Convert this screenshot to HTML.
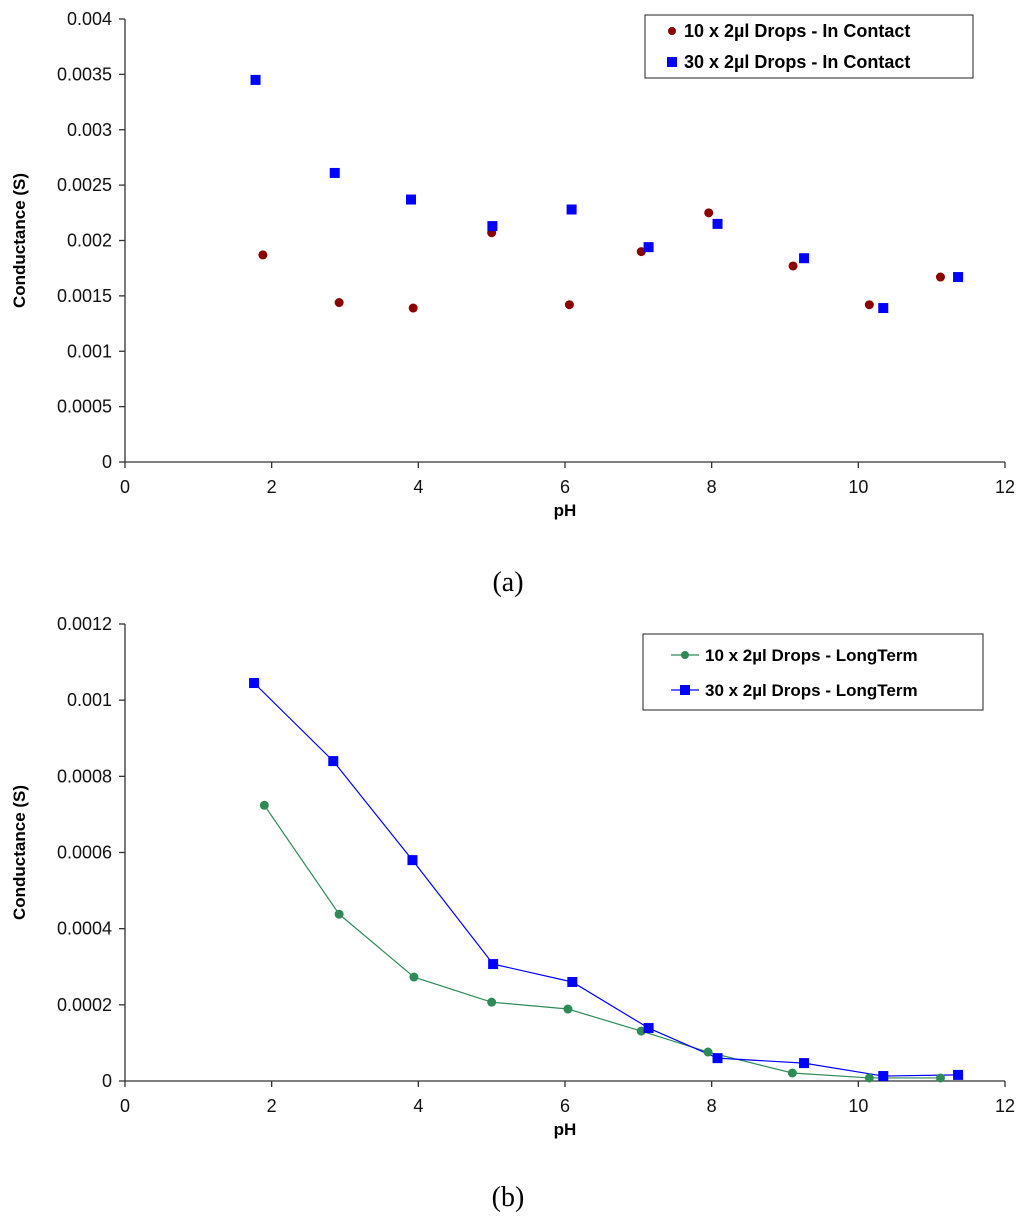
<!DOCTYPE html>
<html><head><meta charset="utf-8"><style>
body{margin:0;background:#fff;width:1024px;height:1225px;overflow:hidden}
svg{display:block}
text{font-family:"Liberation Sans",Arial,sans-serif}
</style></head><body>
<svg id="svg" width="1024" height="1225" xmlns="http://www.w3.org/2000/svg"></svg>
<script>
// Chart (a) data
const phA1 = [1.88, 2.92, 3.93, 5.0, 6.06, 7.04, 7.96, 9.11, 10.15, 11.12];
const condA1 = [0.00187, 0.00144, 0.00139, 0.00207, 0.00142, 0.0019, 0.00225, 0.00177, 0.00142, 0.00167];
const phA2 = [1.78, 2.86, 3.9, 5.01, 6.09, 7.14, 8.08, 9.26, 10.34, 11.36];
const condA2 = [0.00345, 0.00261, 0.00237, 0.00213, 0.00228, 0.00194, 0.00215, 0.00184, 0.00139, 0.00167];
const yTicksA = ["0","0.0005","0.001","0.0015","0.002","0.0025","0.003","0.0035","0.004"];
// Chart (b) data
const phB1 = [1.9, 2.92, 3.94, 5.0, 6.04, 7.04, 7.95, 9.1, 10.15, 11.12];
const condB1 = [0.000724, 0.000438, 0.000273, 0.000207, 0.000189, 0.000131, 0.000076, 0.000021, 0.000008, 0.000008];
const phB2 = [1.76, 2.84, 3.92, 5.02, 6.1, 7.14, 8.08, 9.26, 10.34, 11.36];
const condB2 = [0.001045, 0.00084, 0.00058, 0.000307, 0.00026, 0.000139, 0.00006, 0.000047, 0.000013, 0.000016];
const yTicksB = ["0","0.0002","0.0004","0.0006","0.0008","0.001","0.0012"];
const xTicks = ["0","2","4","6","8","10","12"];

const svg = document.getElementById('svg');
const NS = "http://www.w3.org/2000/svg";
function mk(tag, attrs, parent, txt){
  const e = document.createElementNS(NS, tag);
  for (const k in attrs) e.setAttribute(k, attrs[k]);
  if (txt !== undefined) e.textContent = txt;
  (parent||svg).appendChild(e);
  return e;
}
const X0 = 125, X1 = 1005;
const xs = v => X0 + (v/12)*(X1-X0);

function chart(id, yTop, yBot, yMax, yTicks, s1x, s1y, s2x, s2y, lines, s1color, s1shape, labels, legend){
  const g = mk('g', {});
  
  
  const ys = v => yBot - (v/yMax)*(yBot-yTop);
  const ax = mk('g', {}, g);
  
  
  mk('line', {x1:X0,y1:yTop,x2:X0,y2:yBot,stroke:'#333','stroke-width':1.3}, ax);
  mk('line', {x1:X0,y1:yBot,x2:X1,y2:yBot,stroke:'#333','stroke-width':1.3}, ax);
  yTicks.forEach((t,i)=>{
    const y = ys(parseFloat(t));
    mk('line', {x1:X0-6,y1:y,x2:X0,y2:y,stroke:'#333','stroke-width':1.3}, ax);
    const tx = mk('text', {x:X0-13,y:y+6,'font-size':18,'text-anchor':'end',fill:'#111'}, ax, t);
    
    
  });
  xTicks.forEach(t=>{
    const x = xs(parseFloat(t));
    mk('line', {x1:x,y1:yBot,x2:x,y2:yBot+6,stroke:'#333','stroke-width':1.3}, ax);
    const tx = mk('text', {x:x,y:yBot+31,'font-size':18,'text-anchor':'middle',fill:'#111'}, ax, t);
    
    
  });
  const xt = mk('text', {x:565,y:yBot+54,'font-size':17,'font-weight':'bold','text-anchor':'middle'}, g, 'pH');
  
  
  const cy = (yTop+yBot)/2;
  const yt = mk('text', {x:25,y:cy,'font-size':17,'font-weight':'bold','text-anchor':'middle',transform:`rotate(-90 25 ${cy})`}, g, 'Conductance (S)');
  
  
  if (lines){
    mk('polyline', {points:s1x.map((v,i)=>xs(v)+','+ys(s1y[i])).join(' '),fill:'none',stroke:s1color,'stroke-width':1.2}, g);
    mk('polyline', {points:s2x.map((v,i)=>xs(v)+','+ys(s2y[i])).join(' '),fill:'none',stroke:'#0000ff','stroke-width':1.2}, g);
  }
  s1x.forEach((v,i)=>{
    const c = mk('circle', {cx:xs(v),cy:ys(s1y[i]),r:4.5,fill:s1color}, g);
    
    
  });
  s2x.forEach((v,i)=>{
    const r = mk('rect', {x:xs(v)-5,y:ys(s2y[i])-5,width:10,height:10,fill:'#0000ff'}, g);
    
    
  });
  const lg = mk('g', {}, g);
  
  
  mk('rect', {x:legend[0],y:legend[1],width:legend[2],height:legend[3],fill:'#fff',stroke:'#222','stroke-width':1}, lg);
  const lx = legend[0], ly = legend[1];
  if (lines){
    mk('line', {x1:lx+28,y1:ly+21,x2:lx+56,y2:ly+21,stroke:s1color,'stroke-width':1.2}, lg);
    mk('line', {x1:lx+28,y1:ly+56,x2:lx+56,y2:ly+56,stroke:'#0000ff','stroke-width':1.2}, lg);
    mk('circle', {cx:lx+42,cy:ly+21,r:4,fill:s1color}, lg);
    mk('rect', {x:lx+37,y:ly+51,width:10,height:10,fill:'#0000ff'}, lg);
    mk('text', {x:lx+62,y:ly+27,'font-size':17,'font-weight':'bold'}, lg, labels[0]);
    mk('text', {x:lx+62,y:ly+62,'font-size':17,'font-weight':'bold'}, lg, labels[1]);
  } else {
    mk('circle', {cx:lx+27,cy:ly+16,r:4,fill:s1color}, lg);
    mk('rect', {x:lx+22,y:ly+42,width:10,height:10,fill:'#0000ff'}, lg);
    mk('text', {x:lx+39,y:ly+22,'font-size':18,'font-weight':'bold'}, lg, labels[0]);
    mk('text', {x:lx+39,y:ly+53,'font-size':18,'font-weight':'bold'}, lg, labels[1]);
  }
}
chart('chart-a', 19, 462, 0.004, yTicksA, phA1, condA1, phA2, condA2, false, '#8b0000', 'circle',
  ['10 x 2µl Drops - In Contact','30 x 2µl Drops - In Contact'], [645,15,328,63]);
chart('chart-b', 624, 1081, 0.0012, yTicksB, phB1, condB1, phB2, condB2, true, '#2e8b57', 'circle',
  ['10 x 2µl Drops - LongTerm','30 x 2µl Drops - LongTerm'], [643,634,340,76]);
const ca = mk('text', {x:508,y:591,'font-size':28,'text-anchor':'middle',style:'font-family:"Liberation Serif",serif'}, svg, '(a)');


const cb = mk('text', {x:508,y:1206,'font-size':28,'text-anchor':'middle',style:'font-family:"Liberation Serif",serif'}, svg, '(b)');


</script>
</body></html>
